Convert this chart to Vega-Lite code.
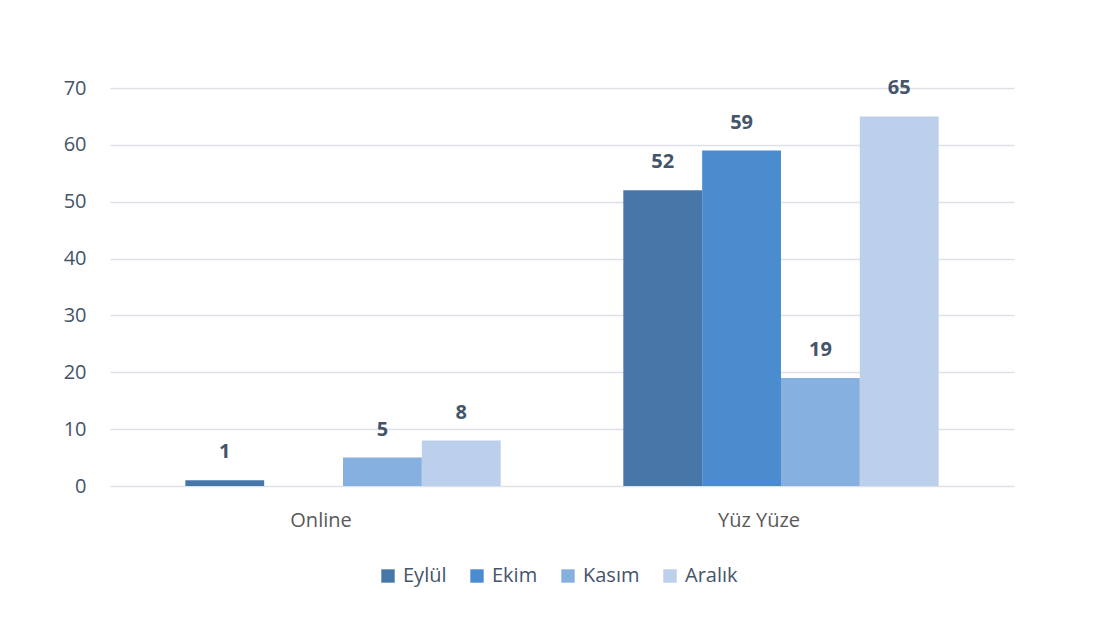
{
  "$schema": "https://vega.github.io/schema/vega-lite/v6.json",
  "autosize": "none",
  "width": 904,
  "height": 398,
  "padding": {"left": 110, "top": 88, "right": 90, "bottom": 131},
  "background": "white",
  "config": {
    "font": "Open Sans",
    "view": {"stroke": null}
  },
  "data": {
    "values": [
      {"kategori": "Online", "ay": "Eylül", "deger": 1},
      {"kategori": "Online", "ay": "Kasım", "deger": 5},
      {"kategori": "Online", "ay": "Aralık", "deger": 8},
      {"kategori": "Yüz Yüze", "ay": "Eylül", "deger": 52},
      {"kategori": "Yüz Yüze", "ay": "Ekim", "deger": 59},
      {"kategori": "Yüz Yüze", "ay": "Kasım", "deger": 19},
      {"kategori": "Yüz Yüze", "ay": "Aralık", "deger": 65}
    ]
  },
  "encoding": {
    "x": {
      "field": "kategori",
      "type": "nominal",
      "scale": {"paddingInner": 0.28, "paddingOuter": 0.172},
      "axis": {
        "title": null,
        "labelAngle": 0,
        "domain": false,
        "ticks": false,
        "labelFontSize": 20,
        "labelColor": "#595959",
        "labelPadding": 24,
        "labelOffset": -22
      }
    },
    "xOffset": {
      "field": "ay",
      "type": "nominal",
      "scale": {"domain": ["Eylül", "Ekim", "Kasım", "Aralık"], "paddingInner": 0, "paddingOuter": 0}
    },
    "y": {
      "field": "deger",
      "type": "quantitative",
      "scale": {"domain": [0, 70], "nice": false},
      "axis": {
        "title": null,
        "values": [0, 10, 20, 30, 40, 50, 60, 70],
        "domain": false,
        "ticks": false,
        "labelFontSize": 20,
        "labelColor": "#44546a",
        "labelPadding": 24,
        "gridColor": "#dde1e6",
        "gridWidth": 1.5
      }
    }
  },
  "layer": [
    {
      "mark": {"type": "bar"},
      "encoding": {
        "color": {
          "field": "ay",
          "type": "nominal",
          "scale": {
            "domain": ["Eylül", "Ekim", "Kasım", "Aralık"],
            "range": ["#4677a8", "#4b8ccf", "#86b0e0", "#bccfeb"]
          },
          "legend": {
            "title": null,
            "orient": "none",
            "direction": "horizontal",
            "legendX": 268,
            "legendY": 478,
            "symbolType": "square",
            "symbolSize": 180,
            "symbolStrokeWidth": 0,
            "labelFontSize": 20,
            "labelColor": "#44546a",
            "columnPadding": 20,
            "symbolOffset": 0,
            "labelOffset": 5
          }
        }
      }
    },
    {
      "mark": {
        "type": "text",
        "baseline": "bottom",
        "dy": -18,
        "fontSize": 20,
        "fontWeight": "bold",
        "color": "#44546a"
      },
      "encoding": {
        "text": {"field": "deger", "type": "quantitative"}
      }
    }
  ]
}
